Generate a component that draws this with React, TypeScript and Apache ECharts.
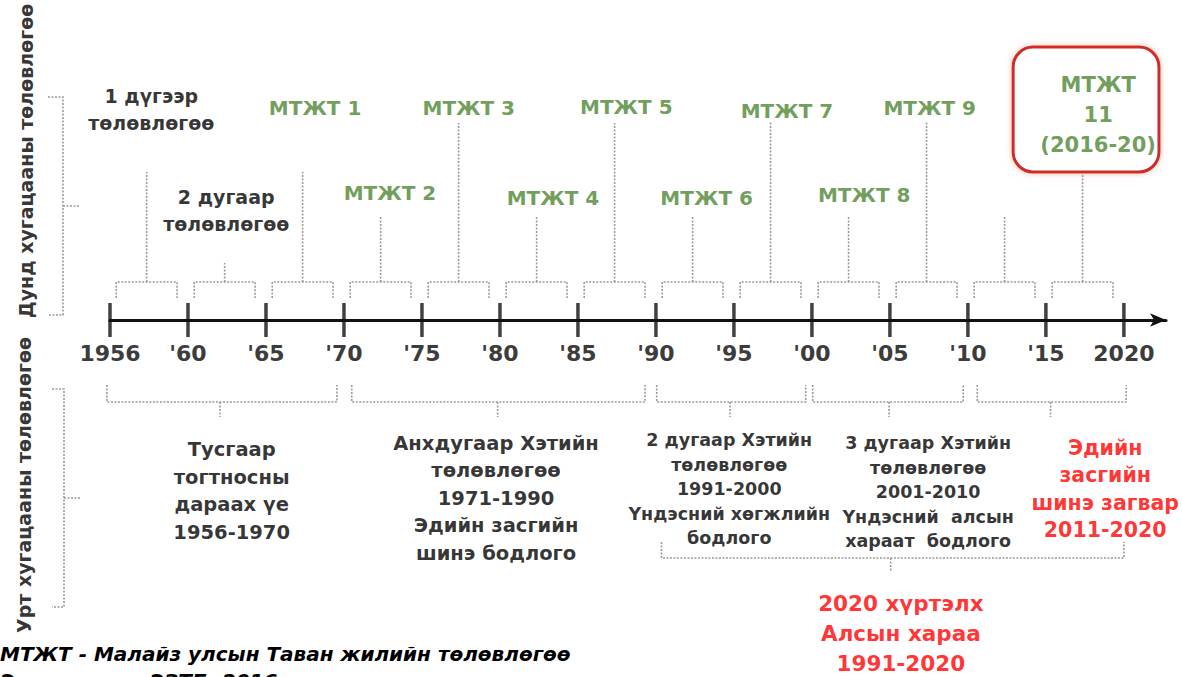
import React, { useEffect, useRef } from 'react';
import * as echarts from 'echarts';

// ---- axis (tick positions are evenly spaced indexes 0..13) ----
const tickLabels = ['1956', "'60", "'65", "'70", "'75", "'80", "'85", "'90", "'95", "'00", "'05", "'10", "'15", '2020'];

// ---- medium-term plans: one bracket per axis interval ----
const planStart = [0, 1, 2, 3, 4, 5, 6, 7, 8, 9, 10, 11, 12];
const planStemHeight = [148, 57, 148, 103, 197, 104, 197, 104, 198, 103, 198, 104, 148];
const planLabels = [
  '1 дүгээр\nтөлөвлөгөө',
  '2 дугаар\nтөлөвлөгөө',
  'МТЖТ 1', 'МТЖТ 2', 'МТЖТ 3', 'МТЖТ 4', 'МТЖТ 5',
  'МТЖТ 6', 'МТЖТ 7', 'МТЖТ 8', 'МТЖТ 9', '',
  'МТЖТ\n11\n(2016-20)',
];
const planLabelX = [0.53, 1.49, 2.63, 3.59, 4.6, 5.68, 6.62, 7.65, 8.68, 9.67, 10.51, 0, 12.67];
const planLabelY = [211, 110, 212, 127, 212, 122, 213, 122, 209, 125, 212, 0, 205];
const planKind = ['black', 'black', 'green', 'green', 'green', 'green', 'green', 'green', 'green', 'green', 'green', 'none', 'box'];

// ---- long-term plans ----
const longLabels = [
  'Тусгаар\nтогтносны\nдараах үе\n1956-1970',
  'Анхдугаар Хэтийн\nтөлөвлөгөө\n1971-1990\nЭдийн засгийн\nшинэ бодлого',
  '2 дугаар Хэтийн\nтөлөвлөгөө\n1991-2000\nҮндэсний хөгжлийн\nбодлого',
  '3 дугаар Хэтийн\nтөлөвлөгөө\n2001-2010\nҮндэсний  алсын\nхараат  бодлого',
  'Эдийн\nзасгийн\nшинэ загвар\n2011-2020',
];
const longFrom = [-0.04, 3.1, 7.01, 9.01, 11.12];
const longTo = [2.91, 6.86, 8.92, 10.94, 13.03];
const longStem = [1.41, 4.97, 7.95, 9.99, 12.06];
const longLabelX = [1.56, 4.95, 7.94, 10.49, 12.76];
const longLabelY = [-171, -178, -169, -172, -169];
const longKind = ['large', 'large', 'small', 'small', 'red'];

const visionLabel = '2020 хүртэлх\nАлсын хараа\n1991-2020';
const visionFrom = 7.07;
const visionTo = 13.0;
const visionStem = 10.01;
const visionLabelX = 10.14;
const visionLabelY = -313;

const sideLabels = ['Дунд хугацааны төлөвлөгөө', 'Урт хугацааны төлөвлөгөө'];
const footnote = 'МТЖТ - Малайз улсын Таван жилийн төлөвлөгөө';
const sourceNote = 'Эх сурвалж: ЭЗТБ, 2016';

const FONT = 'DejaVu Sans';
const GREEN = '#4b8531';
const RED = '#ff0000';
const BRACKET = '#9a9a9a';

function bracketH(params: any, api: any) {
  const x0 = api.value(0), x1 = api.value(1), bar = api.value(2), leg = api.value(3), sx = api.value(4), send = api.value(5);
  const a = api.coord([x0, leg]);
  const b = api.coord([x0, bar]);
  const c = api.coord([x1, bar]);
  const d = api.coord([x1, leg]);
  const s0 = api.coord([sx, bar]);
  const s1 = api.coord([sx, send]);
  const style = { stroke: BRACKET, lineWidth: 1.6, lineDash: [2, 1.5], fill: null };
  return {
    type: 'group',
    children: [
      { type: 'polyline', shape: { points: [a, b, c, d] }, style },
      { type: 'line', shape: { x1: s0[0], y1: s0[1], x2: s1[0], y2: s1[1] }, style },
    ],
  };
}

function bracketV(params: any, api: any) {
  const bx = api.value(0), lx = api.value(1), y0 = api.value(2), y1 = api.value(3), sx = api.value(4);
  const a = api.coord([lx, y0]);
  const b = api.coord([bx, y0]);
  const c = api.coord([bx, y1]);
  const d = api.coord([lx, y1]);
  const m0 = api.coord([bx, (y0 + y1) / 2]);
  const m1 = api.coord([sx, (y0 + y1) / 2]);
  const style = { stroke: BRACKET, lineWidth: 1.6, lineDash: [2, 1.5], fill: null };
  return {
    type: 'group',
    children: [
      { type: 'polyline', shape: { points: [a, b, c, d] }, style },
      { type: 'line', shape: { x1: m0[0], y1: m0[1], x2: m1[0], y2: m1[1] }, style },
    ],
  };
}

function boxRender(params: any, api: any) {
  const p0 = api.coord([api.value(0), api.value(2)]);
  const p1 = api.coord([api.value(1), api.value(3)]);
  return {
    type: 'rect',
    shape: { x: p0[0], y: p0[1], width: p1[0] - p0[0], height: p1[1] - p0[1], r: 20 },
    style: { fill: '#ffffff', stroke: '#d12a2a', lineWidth: 3, shadowBlur: 6, shadowColor: 'rgba(240,150,110,0.6)' },
  };
}

function textSeries(id: string, items: any[], label: any) {
  return {
    id,
    type: 'scatter',
    silent: true,
    clip: false,
    symbolSize: 0,
    itemStyle: { color: 'rgba(0,0,0,0)' },
    z: 10,
    label: { show: true, position: 'inside', fontFamily: FONT, fontWeight: 'bold', formatter: (p: any) => p.name, ...label },
    data: items,
  };
}

export default function App() {
  const ref = useRef<HTMLDivElement>(null);
  useEffect(() => {
    document.body.style.margin = '0';
    const chart = echarts.init(ref.current!, null, { renderer: 'svg' });

    const upperBrackets = planStart.map((s, i) => [s + 0.08, s + 0.86, 38, 22, s + 0.47, planStemHeight[i]]);
    const lowerBrackets = longFrom.map((f, i) => [f, longTo[i], -82, -65, longStem[i], -97]);
    lowerBrackets.push([visionFrom, visionTo, -238, -222, visionStem, -252]);

    const items = (kind: string) =>
      planLabels
        .map((t, i) => ({ name: t, value: [planLabelX[i], planLabelY[i]], kind: planKind[i] }))
        .filter((d) => d.kind === kind)
        .map((d) => ({ name: d.name, value: d.value }));
    const longItems = (kind: string) =>
      longLabels
        .map((t, i) => ({ name: t, value: [longLabelX[i], longLabelY[i]], kind: longKind[i] }))
        .filter((d) => d.kind === kind)
        .map((d) => ({ name: d.name, value: d.value }));

    chart.setOption({
      animation: false,
      backgroundColor: '#ffffff',
      grid: { left: 110, right: 16, top: 0, bottom: 357, outerBoundsMode: 'none', containLabel: false },
      xAxis: {
        type: 'value',
        min: 0,
        max: 13.54,
        position: 'bottom',
        splitLine: { show: false },
        axisLine: {
          onZero: false,
          symbol: ['none', 'arrow'],
          symbolSize: [10, 16],
          lineStyle: { color: '#111111', width: 3 },
        },
        axisTick: { show: false },
        axisLabel: {
          customValues: tickLabels.map((_, i) => i),
          formatter: (v: number) => tickLabels[Math.round(v)] ?? '',
          margin: 22,
          fontFamily: FONT,
          fontWeight: 'bold',
          fontSize: 22,
          color: '#3c3c3c',
        },
      },
      yAxis: { type: 'value', min: 0, max: 320, show: false },
      series: [
        {
          type: 'scatter',
          silent: true,
          clip: false,
          symbol: 'rect',
          symbolSize: [3.5, 34],
          itemStyle: { color: '#111111' },
          data: tickLabels.map((_, i) => [i, 0]),
          z: 5,
        },
        { type: 'custom', silent: true, clip: false, renderItem: bracketH, data: upperBrackets, z: 2 },
        { type: 'custom', silent: true, clip: false, renderItem: bracketH, data: lowerBrackets, z: 2 },
        {
          type: 'custom',
          silent: true,
          clip: false,
          renderItem: bracketV,
          data: [
            [-0.603, -0.795, 223, 5, -0.385],
            [-0.59, -0.744, -69, -287, -0.372],
          ],
          z: 2,
        },
        { type: 'custom', silent: true, clip: false, renderItem: boxRender, data: [[11.58, 13.45, 273, 148]], z: 6 },
        textSeries('planBlack', items('black'), { color: '#000', fontSize: 19, lineHeight: 27 }),
        textSeries('planGreen', items('green'), { color: GREEN, fontSize: 20 }),
        textSeries('planBox', items('box'), { color: GREEN, fontSize: 21, lineHeight: 30 }),
        textSeries('longLarge', longItems('large'), { color: '#000', fontSize: 19.5, lineHeight: 27.5 }),
        textSeries('longSmall', longItems('small'), { color: '#000', fontSize: 17.5, lineHeight: 24.5 }),
        textSeries('longRed', longItems('red'), { color: RED, fontSize: 20.5, lineHeight: 27.3 }),
        textSeries('vision', [{ name: visionLabel, value: [visionLabelX, visionLabelY] }], { color: RED, fontSize: 21.5, lineHeight: 30 }),
        textSeries(
          'side',
          [
            { name: sideLabels[0], value: [-1.08, 159] },
            { name: sideLabels[1], value: [-1.1, -165] },
          ],
          { color: '#000', fontSize: 19, rotate: 90 }
        ),
      ],
      graphic: [
        {
          type: 'text',
          left: 0,
          top: 644,
          style: { text: footnote, font: `italic bold 20px "${FONT}"`, fill: '#000' },
        },
        {
          type: 'text',
          left: 0,
          top: 671,
          style: { text: sourceNote, font: `italic bold 20px "${FONT}"`, fill: '#000' },
        },
      ],
    });
    return () => chart.dispose();
  }, []);
  return <div ref={ref} style={{ position: 'fixed', left: 0, top: 0, width: 1182, height: 677, background: '#fff' }} />;
}
